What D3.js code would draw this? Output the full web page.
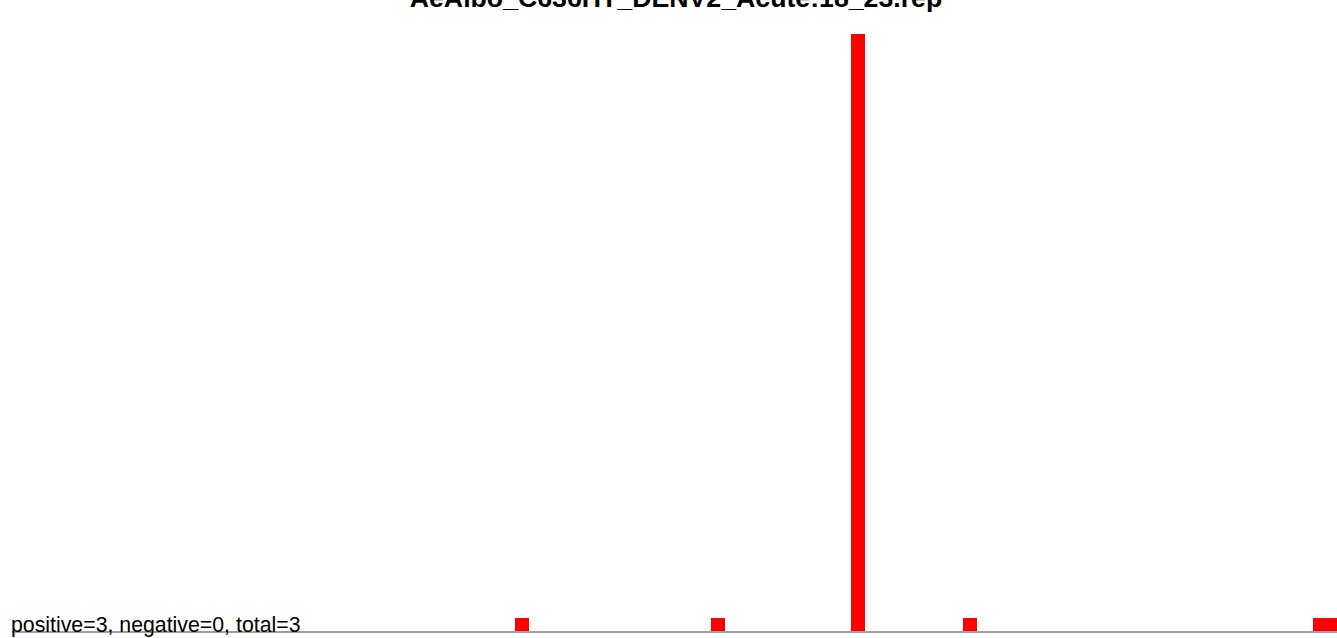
<!DOCTYPE html>
<html>
<head>
<meta charset="utf-8">
<script src="https://cdn.jsdelivr.net/npm/d3@7"></script>
<style>
  html, body { margin: 0; padding: 0; background: #fff; overflow: hidden; }
  svg { display: block; }
</style>
</head>
<body>
<svg id="chart" width="1337" height="638"></svg>
<script>
const title = "AeAlbo_C636HT_DENV2_Acute:18_23.rep";
const summary = "positive=3, negative=0, total=3";
const positions = [36, 50, 60, 68, 93, 94];
const values = [1, 1, 46, 1, 1, 1];
const xDomain = [0, 95];
const yMax = 46;

const svg = d3.select("#chart");
const W = 1337, H = 638;
const left = 11, unit = 14;
const baseY = 631, topY = 34;

const x = d3.scaleLinear().domain(xDomain).range([left, left + unit * xDomain[1]]);
const y = d3.scaleLinear().domain([0, yMax]).range([baseY, topY]);

// baseline axis
svg.append("line")
  .attr("x1", left + 1).attr("x2", W)
  .attr("y1", baseY + 1).attr("y2", baseY + 1)
  .attr("stroke", "#a0a0a0").attr("stroke-width", 2);

const data = positions.map((p, i) => ({p, v: values[i]}));
svg.selectAll("rect.bar").data(data).join("rect")
  .attr("class", "bar")
  .attr("x", d => x(d.p))
  .attr("width", d => x(d.p + 1) - x(d.p))
  .attr("y", d => y(d.v))
  .attr("height", d => y(0) - y(d.v))
  .attr("fill", "#ff0000");

svg.append("text")
  .attr("x", 676).attr("y", 7)
  .attr("text-anchor", "middle")
  .attr("font-family", "Liberation Sans, Arial, sans-serif")
  .attr("font-weight", "bold")
  .attr("font-size", 26.7)
  .attr("fill", "#000")
  .text(title);

svg.append("text")
  .attr("x", 11).attr("y", 632)
  .attr("font-family", "Liberation Sans, Arial, sans-serif")
  .attr("font-size", 21.3)
  .attr("fill", "#000")
  .text(summary);
</script>
</body>
</html>
